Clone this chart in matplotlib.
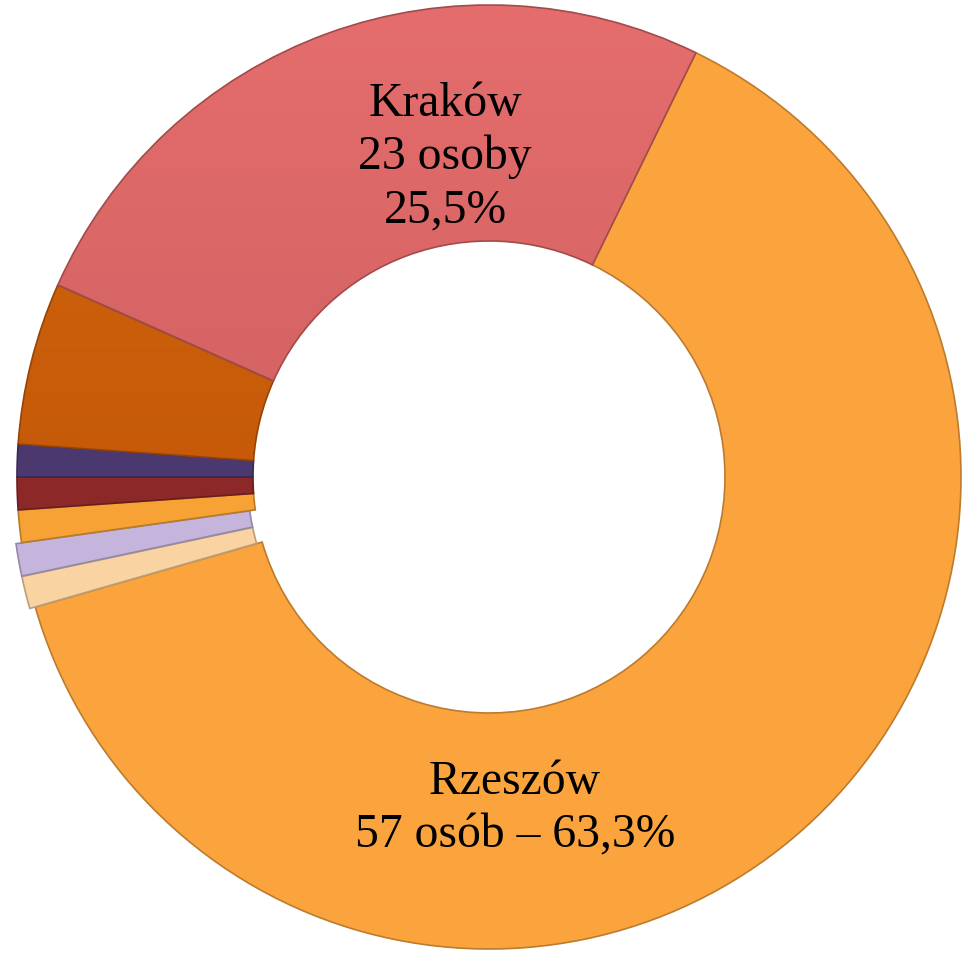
import matplotlib
matplotlib.use('Agg')
import numpy as np
from matplotlib import pyplot as plt

# Data (90 people in total)
cities = ['Rzeszów', 'inne 1', 'inne 2', 'inne 3', 'inne 4', 'inne 5', 'inne 6', 'Kraków']
counts = [57, 1, 1, 1, 1, 1, 5, 23]
colors = ['#FBA43D', '#F9D3A2', '#C5B5DD', '#F7A234', '#8C2828', '#4A386E', '#C65A0C', '#D66464']
# top/bottom colours for the two shaded segments
shade = {'inne 6': ('#D2650F', '#B94F02'), 'Kraków': ('#E56D6D', '#BE5656')}
explode = [0, 0.012, 0.012, 0, 0, 0, 0, 0]


def darker(hex_color, f=0.75):
    r, g, b = matplotlib.colors.to_rgb(hex_color)
    return (r * f, g * f, b * f)


def main():
    fig = plt.figure(figsize=(9.67, 9.54), dpi=100)
    # axes sized so that radius 1 = 472 px, centre at (489, 478) px
    ax = fig.add_axes([(489 - 472) / 967, (954 - 478 - 472) / 954, 944 / 967, 944 / 954])

    wedges, _ = ax.pie(counts, colors=colors, explode=explode, startangle=64,
                       counterclock=False, radius=1.0,
                       wedgeprops=dict(width=0.5, linewidth=1.2))
    for w, c in zip(wedges, colors):
        w.set_edgecolor(darker(c))

    # vertical gradient on the shaded segments
    for name, (top, bottom) in shade.items():
        w = wedges[cities.index(name)]
        t = np.array(matplotlib.colors.to_rgb(top))
        b = np.array(matplotlib.colors.to_rgb(bottom))
        k = np.linspace(0, 1, 256)[:, None]
        grad = (t * (1 - k) + b * k)[:, None, :]
        im = ax.imshow(grad, extent=(-1, 1, -1, 1), aspect='auto', zorder=w.get_zorder() + 0.1)
        im.set_clip_path(w)
        w.set_zorder(w.get_zorder() + 0.2)
        w.set_facecolor('none')

    font = dict(family='Liberation Serif', size=34.3, ha='center', va='center',
                color='black', linespacing=1.27)
    ax.text(-0.093, 0.68, 'Kraków\n23 osoby\n25,5%', **font, zorder=5)
    ax.text(0.055, -0.70, 'Rzeszów\n57 osób – 63,3%', **font, zorder=5)

    ax.set_xlim(-1, 1)
    ax.set_ylim(-1, 1)
    ax.set_aspect('equal')
    ax.axis('off')

    fig.savefig('out.png', dpi=100)


if __name__ == '__main__':
    main()
